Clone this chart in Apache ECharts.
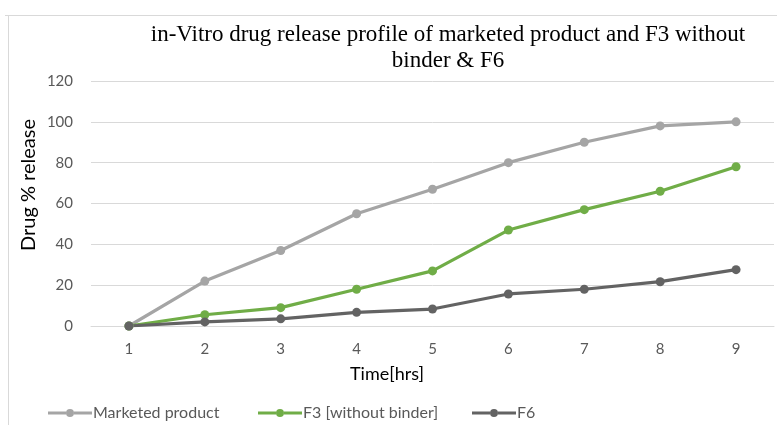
<!DOCTYPE html>
<html>
<head>
<meta charset="utf-8">
<script src="https://cdn.jsdelivr.net/npm/echarts@6/dist/echarts.min.js"></script>
<style>
  html, body { margin: 0; padding: 0; background: #fff; }
  #chart { width: 777px; height: 425px; }
</style>
</head>
<body>
<div id="chart"></div>
<script>
// Dissolution time points (hours) and cumulative % drug released
const hours = ['1', '2', '3', '4', '5', '6', '7', '8', '9'];
const marketedProduct = [0, 22, 37, 55, 67, 80, 90, 98, 100];
const f3WithoutBinder = [0, 5.5, 9, 18, 27, 47, 57, 66, 78];
const f6 = [0, 2, 3.5, 6.7, 8.3, 15.7, 18, 21.7, 27.6];
const yTicks = [0, 20, 40, 60, 80, 100, 120];

const seriesNames = ['Marketed product', 'F3 [without binder]', 'F6'];
const seriesColors = ['#a5a5a5', '#70ad47', '#636363'];

const chart = echarts.init(document.getElementById('chart'), null, { renderer: 'canvas' });

const lineSeries = (name, data, color) => ({
  name: name,
  type: 'line',
  data: data,
  symbol: 'circle',
  symbolSize: 9,
  lineStyle: { color: color, width: 3.2 },
  itemStyle: { color: color },
  emphasis: { disabled: true }
});

// legend swatch: a short thick line with a solid dot in the middle
const swatch = 'path://M0,3 L18,3 L18,6 L0,6 Z M26,3 L44,3 L44,6 L26,6 Z M18,4.5 A4,4 0 1 1 26,4.5 A4,4 0 1 1 18,4.5 Z';
const legendAt = (name, left) => ({
  left: left,
  top: 405,
  itemWidth: 44,
  itemHeight: 9,
  icon: swatch,
  padding: 0,
  textStyle: { fontFamily: 'Lato', fontSize: 16, color: '#595959', padding: [0, 0, 0, -4] },
  data: [name]
});

chart.setOption({
  animation: false,
  backgroundColor: '#ffffff',
  graphic: [
    { type: 'line', shape: { x1: 5, y1: 15.5, x2: 777, y2: 15.5 }, style: { stroke: '#d9d9d9', lineWidth: 1 } },
    { type: 'line', shape: { x1: 8.5, y1: 15, x2: 8.5, y2: 425 }, style: { stroke: '#d9d9d9', lineWidth: 1 } },
    {
      type: 'text', x: 387, y: 374,
      style: { text: 'Time[hrs]', fontFamily: 'Lato', fontSize: 18, fontWeight: 'normal', fill: '#000000', align: 'center', verticalAlign: 'middle' }
    },
    {
      type: 'text', x: 29, y: 185, rotation: Math.PI / 2,
      style: { text: 'Drug % release', fontFamily: 'Lato', fontSize: 20, fontWeight: 'normal', fill: '#000000', align: 'center', verticalAlign: 'middle' }
    }
  ],
  title: {
    text: 'in-Vitro drug release profile of marketed product and F3 without\nbinder & F6',
    left: 443,
    top: 17,
    textAlign: 'center',
    textStyle: {
      fontFamily: 'Liberation Serif',
      fontSize: 23,
      fontWeight: 'normal',
      color: '#000000',
      lineHeight: 26
    }
  },
  legend: [
    legendAt(seriesNames[0], 48),
    legendAt(seriesNames[1], 258),
    legendAt(seriesNames[2], 472)
  ],
  grid: { left: 91, right: 3, top: 81, bottom: 99 },
  xAxis: {
    type: 'category',
    data: hours,
    boundaryGap: true,
    axisLine: { show: true, lineStyle: { color: '#d9d9d9' } },
    axisTick: { show: false },
    axisLabel: { fontFamily: 'Lato', fontSize: 15, color: '#595959', margin: 16 }
  },
  yAxis: {
    type: 'value',
    min: yTicks[0],
    max: yTicks[yTicks.length - 1],
    interval: 20,
    axisLine: { show: false },
    axisTick: { show: false },
    axisLabel: { fontFamily: 'Lato', fontSize: 15, color: '#595959', margin: 18 },
    splitLine: { lineStyle: { color: '#d9d9d9', width: 1 } }
  },
  series: [
    lineSeries(seriesNames[0], marketedProduct, seriesColors[0]),
    lineSeries(seriesNames[1], f3WithoutBinder, seriesColors[1]),
    lineSeries(seriesNames[2], f6, seriesColors[2])
  ]
});
</script>
</body>
</html>
